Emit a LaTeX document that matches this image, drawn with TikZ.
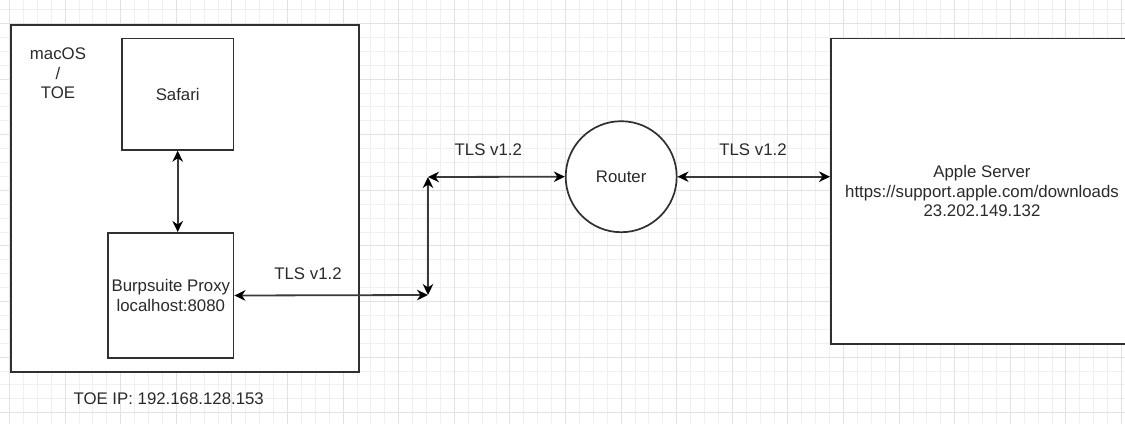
\documentclass[tikz,border=0pt]{standalone}
\usepackage{fontspec}
\setmainfont{Liberation Sans}
\usetikzlibrary{arrows.meta}
\definecolor{minorgrid}{HTML}{F0F0F0}
\definecolor{majorgrid}{HTML}{E2E2E2}
\definecolor{stroke}{HTML}{303030}
\definecolor{linec}{HTML}{3A3A3A}
\definecolor{txt}{HTML}{2A2A2A}
\tikzset{
  box/.style={draw=stroke, fill=white, line width=1.7pt, rectangle, anchor=north west, inner sep=0pt, align=center},
  lbl/.style={inner sep=0pt, align=center, text=txt},
  tip/.style={Stealth[length=11pt,width=10.5pt,inset=3.5pt,color=black]},
  conn/.style={line width=1.8pt, draw=linec, {Stealth[length=11pt,width=10.5pt,inset=3.5pt,color=black]}-{Stealth[length=11pt,width=10.5pt,inset=3.5pt,color=black]}},
  mingrid/.style={draw=minorgrid, line width=0.9pt},
  majgrid/.style={draw=majorgrid, line width=1.1pt}
}
\begin{document}
\begin{tikzpicture}[x=1pt,y=-1pt, font=\fontsize{16.8}{19.4}\selectfont]
\useasboundingbox (0,0) rectangle (1125,424);
\clip (0,0) rectangle (1125,424);
\fill[white] (0,0) rectangle (1125,424);
% grid
\foreach \i in {-1,...,81} { \draw[mingrid] ({9.5+13.9*\i},0) -- ({9.5+13.9*\i},424); }
\foreach \j in {-2,...,30} { \draw[mingrid] (0,{23.5+13.9*\j}) -- (1125,{23.5+13.9*\j}); }
\foreach \i in {-1,...,20} { \draw[majgrid] ({9.5+55.6*\i},0) -- ({9.5+55.6*\i},424); }
\foreach \j in {-1,...,7} { \draw[majgrid] (0,{23.5+55.6*\j}) -- (1125,{23.5+55.6*\j}); }
% nodes
\node[box, minimum width=348pt, minimum height=347pt] (toe) at (10,24) {};
\node[lbl] (os) at (58,73.5) {macOS\\/\\TOE};
\node[box, minimum width=111.7pt, minimum height=111.3pt] (safari) at (121,37.7) {};
\node[lbl] at (safari.center) {Safari};
\node[box, minimum width=125.4pt, minimum height=125.3pt] (burp) at (107.3,232) {};
\node[lbl] at (burp.center) {Burpsuite Proxy\\localhost:8080};
\node[lbl] (toeip) at (168.7,399) {TOE IP: 192.168.128.153};
\node[draw=stroke, fill=white, line width=1.7pt, circle, minimum size=111pt, inner sep=0pt, text=txt] (router) at (621.2,176.7) {Router};
\node[box, minimum width=304pt, minimum height=305.6pt] (server) at (830,37.7) {};
\node[lbl] at (982,191.2) {Apple Server\\https://support.apple.com/downloads\\23.202.149.132};
% labels
\node[lbl] (t1) at (308,274) {TLS v1.2};
\node[lbl] (t2) at (488.3,150) {TLS v1.2};
\node[lbl] (t3) at (753,150) {TLS v1.2};
% connectors
\coordinate (jb) at (428,295);
\coordinate (jt) at (428,177);
\draw[conn] (safari.south) -- (safari.south |- burp.north);
\draw[conn] (burp.east) -- (jb);
\draw[conn] (jb) -- (jt);
\draw[conn] (jt) -- (router.west);
\draw[conn] (router.east) -- (router.east -| server.west);
\end{tikzpicture}
\end{document}
